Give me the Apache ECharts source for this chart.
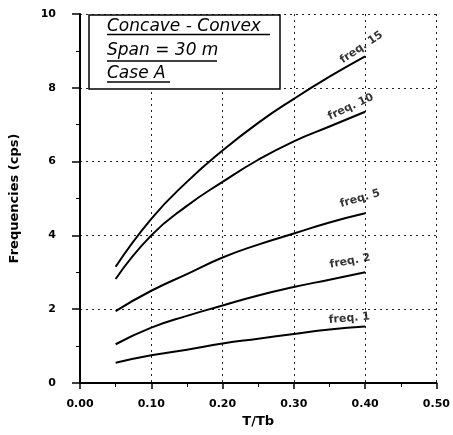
<!DOCTYPE html>
<html>
<head>
<meta charset="utf-8">
<script src="https://cdn.jsdelivr.net/npm/echarts@6/dist/echarts.min.js"></script>
<style>html,body{margin:0;padding:0;background:#fff}#c{width:453px;height:435px}</style>
</head>
<body>
<div id="c"></div>
<script>
// ---- data ----
var ratio = [0.05, 0.10, 0.15, 0.20, 0.25, 0.30, 0.35, 0.40];
var freq15 = [3.15, 4.45, 5.45, 6.30, 7.05, 7.70, 8.30, 8.85];
var freq10 = [2.82, 4.00, 4.80, 5.45, 6.05, 6.55, 6.95, 7.35];
var freq5  = [1.95, 2.50, 2.95, 3.40, 3.75, 4.05, 4.35, 4.60];
var freq2  = [1.05, 1.50, 1.82, 2.10, 2.37, 2.60, 2.80, 3.00];
var freq1  = [0.55, 0.75, 0.90, 1.07, 1.20, 1.33, 1.45, 1.53];
var seriesNames = ['freq. 15', 'freq. 10', 'freq. 5', 'freq. 2', 'freq. 1'];
var seriesValues = [freq15, freq10, freq5, freq2, freq1];
var xTicks = ['0.00', '0.10', '0.20', '0.30', '0.40', '0.50'];
var yTicks = ['0', '2', '4', '6', '8', '10'];
var boxLines = ['Concave - Convex', 'Span = 30 m', 'Case A'];

// ---- styles (label placement) ----
var labelRot = [34, 25, 16, 10, 5];
var labelOff = [[2, -4], [-11, -5], [-1, -10], [-13, -8], [-15, -4]];

var chart = echarts.init(document.getElementById('c'), null, {renderer: 'canvas'});
var series = [];
seriesValues.forEach(function (vals, i) {
  series.push({
    type: 'line', name: seriesNames[i], smooth: true, symbol: 'none',
    lineStyle: {color: '#000', width: 2}, z: 3,
    data: ratio.map(function (x, j) { return [x, vals[j]]; })
  });
  var last = vals.length - 1;
  series.push({
    type: 'scatter', name: seriesNames[i] + ' label', symbolSize: 0, z: 4,
    itemStyle: {color: 'transparent'},
    silent: true,
    label: {
      show: true, position: 'inside', formatter: seriesNames[i],
      align: 'center', verticalAlign: 'bottom',
      rotate: labelRot[i], offset: labelOff[i],
      color: '#000', fontFamily: 'DejaVu Sans', fontSize: 11, fontWeight: 'bold'
    },
    data: [[ratio[last], vals[last]]]
  });
});

var gridLine = {show: true, lineStyle: {color: '#222', type: [2, 4], width: 1}};
var tickFont = {color: '#000', fontFamily: 'DejaVu Sans', fontSize: 11, fontWeight: 'bold'};

var boxGraphics = [{
  type: 'rect', shape: {x: 89, y: 15, width: 191, height: 74},
  style: {fill: '#fff', stroke: '#000', lineWidth: 1.5}, z: 10
}];
var textY = [27, 51, 74];
var underY = [34.5, 61, 82];
var underW = [163, 110, 63];
boxLines.forEach(function (t, i) {
  boxGraphics.push({
    type: 'text', x: 107, y: textY[i], z: 11,
    style: {text: t, fill: '#000', font: 'italic 17px "DejaVu Sans"', textVerticalAlign: 'middle', verticalAlign: 'middle'}
  });
  boxGraphics.push({
    type: 'line', z: 11, shape: {x1: 107, y1: underY[i], x2: 107 + underW[i], y2: underY[i]},
    style: {stroke: '#000', lineWidth: 1.3}
  });
});

chart.setOption({
  backgroundColor: '#fff',
  animation: false,
  grid: {left: 75, right: 15, top: 14, bottom: 52},
  xAxis: {
    type: 'value', min: 0, max: 0.5, interval: 0.1,
    name: 'T/Tb', nameLocation: 'middle', nameGap: 30,
    nameTextStyle: {color: '#000', fontFamily: 'DejaVu Sans', fontSize: 13, fontWeight: 'bold'},
    axisLine: {show: true, onZero: false, lineStyle: {color: '#000', width: 2}},
    axisTick: {show: true, length: 6, lineStyle: {color: '#000', width: 1.5}},
    minorTick: {show: true, splitNumber: 2, length: 4, lineStyle: {color: '#000', width: 1}},
    axisLabel: Object.assign({margin: 16, formatter: function (v) { return xTicks[Math.round(v * 10)]; }}, tickFont),
    splitLine: gridLine
  },
  yAxis: {
    type: 'value', min: 0, max: 10, interval: 2,
    name: 'Frequencies (cps)', nameLocation: 'middle', nameGap: 59,
    nameTextStyle: {color: '#000', fontFamily: 'DejaVu Sans', fontSize: 13, fontWeight: 'bold'},
    axisLine: {show: true, lineStyle: {color: '#000', width: 2}},
    axisTick: {show: true, length: 8, lineStyle: {color: '#000', width: 1.5}},
    minorTick: {show: true, splitNumber: 2, length: 4, lineStyle: {color: '#000', width: 1}},
    axisLabel: Object.assign({margin: 24, formatter: function (v) { return yTicks[Math.round(v / 2)]; }}, tickFont),
    splitLine: gridLine
  },
  graphic: boxGraphics,
  series: series
});
</script>
</body>
</html>
